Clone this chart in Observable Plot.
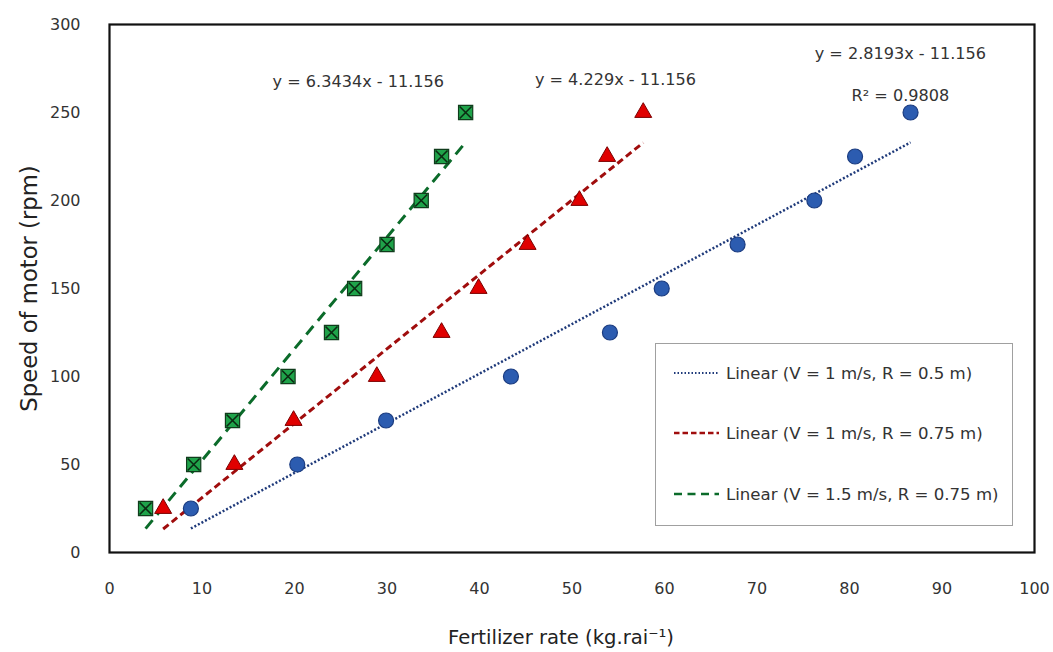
<!DOCTYPE html>
<html>
<head>
<meta charset="utf-8">
<script src="https://cdn.jsdelivr.net/npm/d3@7"></script>
<script src="https://cdn.jsdelivr.net/npm/@observablehq/plot@0.6"></script>
<style>
  html, body { margin: 0; padding: 0; background: #fff; }
  #wrap { position: relative; width: 1053px; height: 652px; font-family: "DejaVu Sans", sans-serif; }
  #legend { position: absolute; left: 655px; top: 343px; width: 356px; height: 181px; border: 1.5px solid #a0a0a0; background: #fff; }
  .row { position: absolute; left: 0; height: 24px; display: flex; align-items: center; font-size: 16.6px; color: #333; white-space: nowrap; }
  .row svg { margin-left: 18px; margin-right: 7px; }
</style>
</head>
<body>
<div id="wrap"><div id="chart"></div><div id="legend"></div></div>
<script>
// ---- data ----
const speedRpm = [25, 50, 75, 100, 125, 150, 175, 200, 225, 250];
const rateV1R050 = [8.8, 20.3, 29.9, 43.4, 54.1, 59.7, 67.9, 76.2, 80.6, 86.6];
const rateV1R075 = [5.8, 13.5, 19.9, 28.9, 35.9, 39.9, 45.2, 50.8, 53.8, 57.7];
const rateV15R075 = [3.9, 9.1, 13.3, 19.3, 24.0, 26.5, 30.0, 33.7, 35.9, 38.5];
const seriesNames = ["Linear (V = 1 m/s, R = 0.5 m)", "Linear (V = 1 m/s, R = 0.75 m)", "Linear (V = 1.5 m/s, R = 0.75 m)"];
const trendSlopes = [2.8193, 4.229, 6.3434];
const trendIntercept = -11.156;
const xTicks = [0, 10, 20, 30, 40, 50, 60, 70, 80, 90, 100];
const yTicks = [0, 50, 100, 150, 200, 250, 300];
const eqLabels = ["y = 2.8193x - 11.156", "R² = 0.9808", "y = 4.229x - 11.156", "y = 6.3434x - 11.156"];
const eqX = [85.5, 85.5, 54.7, 26.9];
const eqY = [283.5, 259.2, 268.3, 267.2];

// ---- styles ----
const lineColors = ["#1f3a7a", "#a00d0d", "#0b6b2a"];
const lineDash = ["2,2", "7,4", "11,7"];

const rates = [rateV1R050, rateV1R075, rateV15R075];
const points = rates.flatMap((xs, i) => xs.map((x, j) => ({x, y: speedRpm[j], s: i})));
const trend = rates.flatMap((xs, i) => {
  const x0 = d3.min(xs), x1 = d3.max(xs);
  return [x0, x1].map(x => ({x, y: trendSlopes[i] * x + trendIntercept, s: i}));
});
const labels = eqLabels.map((t, i) => ({t, x: eqX[i], y: eqY[i]}));

const font = '"DejaVu Sans", sans-serif';
const chart = Plot.plot({
  width: 1053, height: 652,
  marginLeft: 109, marginRight: 19, marginTop: 24, marginBottom: 100,
  style: {fontFamily: font, background: "#fff"},
  x: {domain: [0, 100]},
  y: {domain: [0, 300]},
  marks: [
    Plot.axisX({ticks: xTicks, tickSize: 0, tickPadding: 30, fontSize: 16, label: null, color: "#333"}),
    Plot.axisY({ticks: yTicks, tickSize: 0, tickPadding: 29, fontSize: 16, label: null, color: "#333"}),
    ...[0, 1, 2].map(i => Plot.line(trend.filter(d => d.s === i), {x: "x", y: "y", stroke: lineColors[i], strokeWidth: i === 0 ? 2.5 : 3, strokeDasharray: lineDash[i], strokeLinecap: "butt"})),
    Plot.dot(points.filter(d => d.s === 0), {x: "x", y: "y", symbol: "circle", r: 7.5, fill: "#2c5cb0", stroke: "#1b3c80", strokeWidth: 1.2}),
    Plot.dot(points.filter(d => d.s === 1), {x: "x", y: "y", symbol: "triangle", r: 6.3, fill: "#e00000", stroke: "#7a0000", strokeWidth: 1}),
    Plot.dot(points.filter(d => d.s === 2), {x: "x", y: "y", symbol: "square", r: 8, fill: "#1fa34a", stroke: "#103c1c", strokeWidth: 1.2}),
    Plot.dot(points.filter(d => d.s === 2), {x: "x", y: "y", symbol: "times", r: 5.5, stroke: "#0b2a12", strokeWidth: 1.6}),
    Plot.text(labels, {x: "x", y: "y", text: "t", fontSize: 16.1, fill: "#333"}),
    Plot.frame({stroke: "#111", strokeWidth: 2.2}),
    Plot.text(["Speed of motor (rpm)"], {frameAnchor: "left", textAnchor: "middle", lineAnchor: "middle", rotate: -90, dx: -80, fontSize: 22.7, fill: "#222"}),
    Plot.text(["Fertilizer rate (kg.rai⁻¹)"], {frameAnchor: "bottom", textAnchor: "middle", lineAnchor: "middle", dy: 85, dx: -11, fontSize: 19.6, fill: "#222"})
  ]
});
document.getElementById("chart").appendChild(chart);

// legend overlay
const legend = d3.select("#legend");
const rowTops = [17, 77, 138];
seriesNames.forEach((name, i) => {
  const row = legend.append("div").attr("class", "row").style("top", rowTops[i] + "px");
  const svg = row.append("svg").attr("width", 45).attr("height", 10);
  svg.append("line").attr("x1", 0).attr("x2", 45).attr("y1", 5).attr("y2", 5)
    .attr("stroke", lineColors[i]).attr("stroke-width", i === 0 ? 2 : 2.6)
    .attr("stroke-dasharray", i === 0 ? "1.5,2" : i === 1 ? "5.5,3" : "8,5.5");
  row.append("span").text(name);
});
</script>
</body>
</html>
